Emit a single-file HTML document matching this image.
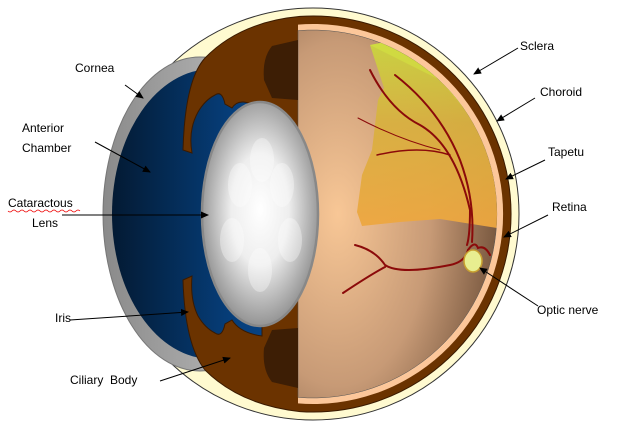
<!DOCTYPE html>
<html><head><style>
body{margin:0;background:#fff;width:619px;height:435px;overflow:hidden}
svg{display:block}
text{font-family:"Liberation Sans",sans-serif;font-size:12px;fill:#000}
</style></head><body>
<svg width="619" height="435" viewBox="0 0 619 435">
<defs>
<marker id="a" markerWidth="8" markerHeight="8" refX="7" refY="4" orient="auto" markerUnits="userSpaceOnUse"><path d="M0,0.5 L8,4 L0,7.5z" fill="#000"/></marker>
<linearGradient id="blue" x1="0" x2="1"><stop offset="0" stop-color="#031a33"/><stop offset="0.6" stop-color="#063e7a"/><stop offset="1" stop-color="#0a4a93"/></linearGradient>
<linearGradient id="grey" x1="0" x2="1"><stop offset="0" stop-color="#8a8a8a"/><stop offset="1" stop-color="#c8c8c8"/></linearGradient>
<radialGradient id="fund" cx="0.2" cy="0.5" r="0.85"><stop offset="0" stop-color="#f8c796"/><stop offset="0.55" stop-color="#c79a76"/><stop offset="1" stop-color="#6e4f38"/></radialGradient>
<radialGradient id="lens" cx="0.5" cy="0.48" r="0.55"><stop offset="0" stop-color="#fff"/><stop offset="0.45" stop-color="#eee"/><stop offset="1" stop-color="#8a8a8a"/></radialGradient>
<linearGradient id="tap" x1="0" y1="0" x2="0" y2="1"><stop offset="0" stop-color="#c8d840"/><stop offset="0.45" stop-color="#d8b040"/><stop offset="1" stop-color="#eea640"/></linearGradient>
<clipPath id="inner"><circle cx="313" cy="214" r="184"/></clipPath>
</defs>
<!-- sclera -->
<circle cx="313" cy="214" r="206" fill="#fffad0" stroke="#333" stroke-width="1"/>
<!-- cornea -->
<ellipse cx="200" cy="214" rx="97" ry="157" fill="url(#grey)" stroke="#777"/>
<ellipse cx="212" cy="214" rx="100" ry="145" fill="url(#blue)"/>
<!-- choroid + ciliary -->
<path d="M300,16.43 A198,198 0 1 1 300,411.57 Q240,405 205,370 Q185,345 183,280 L192,276 Q190,300 198,316 Q205,328 215,333 Q222,338 225,324 L232,320 Q240,333 262,336 L262,110 Q240,95 232,108 L225,104 Q222,90 215,95 Q205,100 198,112 Q188,130 192,153 L183,150 Q185,80 205,58 Q240,22 300,16.43 Z" fill="#6b3300" stroke="#3a1a00"/>
<path d="M298,24.6 A190,190 0 1 1 298,403.4 Z" fill="#fcc79a"/>
<path d="M298,30.6 A184,184 0 1 1 298,397.4 Z" fill="url(#fund)" stroke="#555" stroke-width="0.5"/>
<!-- dark ciliary strip -->
<path d="M298,40 L272,46 Q262,58 264,80 L272,98 L298,100 Z" fill="#3d1e05"/>
<path d="M298,388 L272,382 Q262,370 264,348 L272,330 L298,328 Z" fill="#3d1e05"/>
<!-- tapetum -->
<g clip-path="url(#inner)">
<path d="M370,45 L420,35 L520,100 L520,230 L497,228 L440,219 L400,222 L362,226 L357,212 L362,175 L372,150 L378,100 L384,88 Z" fill="url(#tap)" opacity="0.95"/>
<path d="M370,45 L420,35 L505,110 L490,140 L440,80 Z" fill="#d6e840" opacity="0.5"/>
</g>
<!-- lens -->
<ellipse cx="260" cy="214" rx="58" ry="112" fill="url(#lens)" stroke="#888" stroke-width="2.5"/>
<g fill="#fff" opacity="0.35">
<ellipse cx="262" cy="160" rx="12" ry="22"/><ellipse cx="240" cy="185" rx="12" ry="22"/><ellipse cx="282" cy="185" rx="12" ry="22"/>
<ellipse cx="232" cy="240" rx="12" ry="22"/><ellipse cx="290" cy="240" rx="12" ry="22"/><ellipse cx="260" cy="270" rx="12" ry="22"/>
</g>
<!-- vessels -->
<g fill="none" stroke="#8b0a0a" stroke-width="2" stroke-linecap="round">
<path d="M370,70 Q390,110 420,125 Q455,145 470,210 Q470,235 467,245"/>
<path d="M395,75 Q440,110 460,160 Q475,200 472,242"/>
<path d="M377,155 Q420,145 450,155" stroke-width="1.5"/>
<path d="M358,118 Q400,140 440,150" stroke-width="1"/>
<path d="M355,245 Q375,250 385,265 Q400,275 450,265 Q465,262 468,250"/>
<path d="M343,293 Q370,275 385,267"/>
<path d="M468,250 Q475,240 478,248 Q485,245 490,255"/>
</g>
<ellipse cx="473" cy="261" rx="9" ry="11" fill="#e8ee90" stroke="#c8a030" stroke-width="1.5"/>
<!-- arrows -->
<g stroke="#000" stroke-width="1" marker-end="url(#a)">
<line x1="125" y1="85" x2="143" y2="98"/>
<line x1="95" y1="142" x2="150" y2="172"/>
<line x1="62" y1="215" x2="208" y2="215"/>
<line x1="70" y1="320" x2="188" y2="312"/>
<line x1="160" y1="381" x2="230" y2="358"/>
<line x1="518" y1="48" x2="474" y2="74"/>
<line x1="535" y1="98" x2="497" y2="121"/>
<line x1="545" y1="160" x2="506" y2="179"/>
<line x1="548" y1="215" x2="504" y2="237"/>
<line x1="538" y1="306" x2="480" y2="268"/>
</g>
<!-- labels -->
<text x="75" y="72">Cornea</text>
<text x="22" y="132">Anterior</text>
<text x="22" y="152">Chamber</text>
<text x="8" y="207">Cataractous</text>
<path d="M8,211 q2,2 4,0 t4,0 t4,0 t4,0 t4,0 t4,0 t4,0 t4,0 t4,0 t4,0 t4,0 t4,0 t4,0 t4,0 t4,0 t4,0 t4,0 t4,0" fill="none" stroke="#e00" stroke-width="0.8"/>
<text x="32" y="227">Lens</text>
<text x="55" y="322">Iris</text>
<text x="70" y="384">Ciliary&#160; Body</text>
<text x="520" y="50">Sclera</text>
<text x="540" y="96">Choroid</text>
<text x="548" y="156">Tapetu</text>
<text x="552" y="211">Retina</text>
<text x="537" y="314">Optic nerve</text>
</svg>
</body></html>
